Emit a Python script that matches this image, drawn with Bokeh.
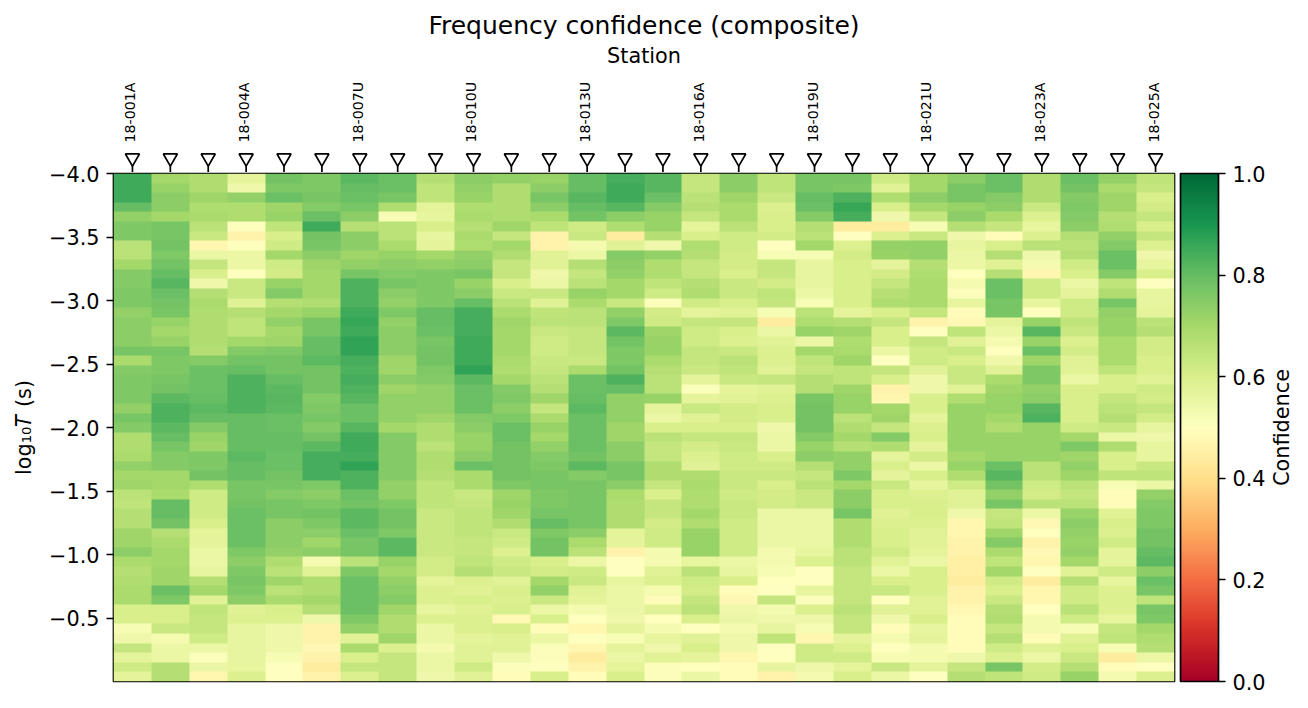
import math
import numpy as np
from bokeh.core.properties import value
from bokeh.embed import file_html
from bokeh.layouts import column, row
from bokeh.models import ColorBar, FixedTicker, Label, LinearColorMapper, Range1d, PrintfTickFormatter
from bokeh.plotting import figure
from bokeh.resources import INLINE

title_text = "Frequency confidence (composite)"
station_axis = "Station"
colorbar_label = "Confidence"
stations = ["18-001A","","","18-004A","","","18-007U","","","18-010U","","","18-013U","","","18-016A","","","18-019U","","","18-021U","","","18-023A","","","18-025A"]
y_ticks = [-4.0,-3.5,-3.0,-2.5,-2.0,-1.5,-1.0,-0.5]
y_tick_labels = ["\u22124.0","\u22123.5","\u22123.0","\u22122.5","\u22122.0","\u22121.5","\u22121.0","\u22120.5"]
cb_ticks = [0.0,0.2,0.4,0.6,0.8,1.0]
log_min, log_max = -4.0, 0.0

c00=[.85,.85,.85,.80,.73,.76,.76,.66,.66,.70,.75,.75,.76,.76,.73,.74,.74,.74,.77,.69,.75,.76,.76,.76,.73,.77,.75,.68,.68,.69,.73,.70,.71,.66,.65,.67,.67,.71,.71,.74,.69,.67,.68,.69,.69,.60,.60,.52,.54,.64,.57,.62,.57]
c01=[.70,.72,.74,.74,.70,.77,.77,.78,.76,.78,.80,.82,.79,.78,.77,.72,.70,.72,.77,.76,.76,.77,.78,.81,.83,.83,.81,.80,.77,.75,.75,.70,.70,.69,.80,.80,.78,.67,.69,.70,.70,.71,.71,.79,.76,.60,.60,.63,.53,.55,.55,.67,.67]
c02=[.68,.68,.71,.68,.69,.66,.63,.47,.55,.64,.60,.54,.67,.69,.68,.68,.68,.68,.67,.75,.79,.79,.79,.80,.81,.80,.75,.72,.71,.76,.76,.78,.68,.62,.62,.62,.60,.57,.57,.55,.55,.56,.67,.70,.58,.65,.64,.64,.62,.55,.51,.55,.47]
c03=[.57,.54,.73,.68,.68,.50,.46,.50,.55,.55,.50,.63,.63,.58,.67,.65,.65,.70,.75,.78,.80,.83,.83,.83,.83,.80,.80,.80,.80,.81,.80,.80,.77,.77,.78,.79,.79,.79,.79,.76,.74,.76,.77,.76,.74,.58,.59,.56,.56,.56,.56,.56,.59]
c04=[.78,.76,.79,.71,.72,.65,.60,.62,.70,.62,.61,.72,.75,.67,.70,.73,.70,.71,.76,.78,.78,.80,.81,.82,.81,.79,.79,.80,.80,.79,.79,.78,.77,.75,.77,.77,.74,.74,.74,.73,.68,.66,.71,.66,.69,.60,.59,.54,.54,.54,.52,.50,.50]
c05=[.76,.76,.77,.75,.79,.85,.78,.77,.74,.71,.70,.70,.70,.68,.72,.77,.77,.80,.80,.81,.78,.78,.78,.75,.76,.77,.75,.78,.81,.84,.84,.84,.76,.74,.76,.78,.76,.74,.71,.74,.53,.58,.68,.68,.70,.67,.54,.46,.46,.48,.46,.44,.46]
c06=[.81,.80,.79,.77,.74,.67,.74,.74,.71,.73,.77,.83,.83,.83,.85,.86,.85,.87,.87,.84,.83,.84,.83,.82,.79,.79,.82,.85,.85,.84,.87,.83,.83,.79,.78,.81,.81,.79,.77,.77,.66,.76,.79,.79,.79,.79,.76,.73,.58,.69,.60,.64,.59]
c07=[.79,.79,.77,.68,.52,.66,.66,.69,.72,.74,.75,.77,.74,.73,.76,.73,.74,.74,.74,.71,.71,.74,.71,.73,.73,.73,.70,.75,.75,.75,.75,.75,.73,.73,.76,.78,.78,.76,.81,.81,.72,.70,.73,.74,.75,.71,.68,.68,.71,.59,.64,.64,.64]
c08=[.67,.65,.65,.57,.56,.60,.56,.57,.70,.73,.76,.76,.76,.76,.80,.80,.79,.77,.78,.78,.76,.75,.73,.73,.73,.71,.68,.68,.66,.68,.68,.67,.65,.65,.65,.63,.63,.63,.63,.63,.61,.61,.57,.59,.59,.56,.59,.55,.55,.53,.55,.55,.54]
c09=[.74,.73,.72,.68,.69,.67,.69,.68,.73,.74,.77,.72,.74,.80,.84,.84,.84,.85,.85,.85,.87,.81,.79,.79,.79,.75,.74,.72,.72,.74,.79,.69,.69,.63,.64,.65,.65,.65,.64,.64,.65,.67,.59,.58,.60,.58,.59,.59,.57,.58,.58,.62,.58]
c10=[.73,.68,.68,.68,.68,.71,.64,.70,.68,.64,.64,.60,.63,.66,.69,.71,.70,.70,.70,.69,.68,.70,.75,.76,.74,.76,.79,.79,.78,.78,.78,.78,.76,.71,.72,.71,.68,.63,.62,.59,.62,.63,.58,.60,.59,.60,.48,.60,.58,.58,.54,.51,.49]
c11=[.72,.74,.77,.74,.69,.65,.46,.46,.58,.58,.54,.55,.63,.58,.65,.66,.63,.62,.62,.63,.64,.66,.67,.71,.64,.69,.72,.70,.73,.75,.76,.77,.77,.76,.76,.77,.80,.76,.78,.78,.60,.61,.70,.73,.63,.55,.60,.49,.55,.51,.51,.50,.60]
c12=[.80,.80,.82,.80,.78,.62,.63,.53,.55,.67,.64,.66,.72,.69,.66,.66,.64,.64,.64,.63,.69,.79,.79,.80,.81,.79,.79,.79,.79,.78,.81,.75,.77,.77,.77,.77,.77,.74,.69,.66,.55,.62,.63,.58,.57,.53,.50,.47,.50,.47,.44,.46,.49]
c13=[.84,.85,.85,.82,.74,.68,.44,.58,.75,.74,.73,.70,.70,.63,.73,.76,.81,.78,.76,.76,.78,.83,.80,.73,.73,.73,.71,.71,.74,.74,.77,.77,.74,.69,.68,.68,.68,.57,.57,.46,.50,.50,.56,.55,.55,.55,.54,.57,.52,.57,.55,.57,.60]
c14=[.82,.82,.79,.75,.72,.72,.67,.54,.73,.68,.68,.65,.62,.51,.61,.62,.71,.72,.72,.69,.67,.66,.66,.72,.57,.55,.60,.66,.64,.64,.68,.68,.64,.60,.64,.64,.61,.62,.62,.53,.53,.58,.59,.53,.49,.58,.50,.53,.56,.54,.58,.51,.51]
c15=[.64,.64,.66,.67,.64,.57,.60,.68,.67,.64,.64,.67,.68,.62,.57,.64,.62,.62,.64,.64,.63,.57,.51,.57,.63,.58,.60,.64,.61,.59,.58,.68,.69,.68,.68,.70,.68,.72,.72,.72,.56,.66,.62,.61,.64,.66,.60,.50,.58,.60,.57,.50,.55]
c16=[.74,.74,.71,.69,.69,.66,.62,.62,.61,.61,.60,.63,.63,.60,.58,.64,.60,.59,.63,.66,.65,.63,.57,.58,.61,.61,.60,.64,.63,.62,.62,.63,.63,.62,.63,.63,.62,.62,.62,.62,.55,.56,.60,.49,.48,.54,.55,.53,.54,.54,.47,.49,.49]
c17=[.65,.65,.63,.59,.60,.60,.61,.50,.52,.64,.64,.61,.65,.64,.52,.44,.55,.58,.59,.59,.58,.64,.58,.59,.60,.60,.54,.55,.55,.60,.62,.63,.60,.61,.61,.55,.55,.55,.55,.53,.53,.52,.50,.50,.64,.53,.54,.56,.65,.50,.50,.56,.46]
c18=[.77,.77,.80,.79,.75,.67,.66,.70,.52,.56,.56,.56,.55,.52,.66,.68,.72,.55,.70,.65,.64,.67,.67,.77,.78,.78,.78,.75,.72,.74,.67,.64,.66,.63,.63,.55,.55,.55,.55,.56,.59,.50,.50,.56,.51,.59,.54,.52,.47,.62,.62,.54,.53]
c19=[.77,.76,.83,.86,.84,.44,.50,.59,.61,.60,.60,.60,.60,.60,.57,.67,.71,.68,.69,.71,.65,.65,.71,.72,.72,.66,.68,.70,.67,.73,.73,.76,.70,.74,.74,.77,.68,.68,.68,.66,.66,.64,.64,.64,.64,.66,.64,.64,.57,.59,.62,.57,.60]
c20=[.62,.58,.68,.60,.54,.44,.59,.73,.72,.57,.61,.64,.67,.68,.60,.64,.60,.60,.55,.50,.64,.60,.46,.47,.70,.71,.64,.75,.68,.57,.60,.57,.63,.60,.60,.58,.59,.60,.60,.62,.58,.55,.60,.63,.50,.58,.54,.49,.53,.50,.52,.63,.55]
c21=[.70,.70,.74,.70,.64,.52,.63,.73,.73,.67,.68,.69,.69,.69,.64,.46,.50,.64,.62,.62,.58,.54,.54,.60,.60,.57,.59,.60,.57,.61,.55,.60,.56,.59,.60,.60,.59,.58,.58,.57,.55,.60,.60,.60,.58,.58,.60,.56,.57,.53,.53,.57,.50]
c22=[.74,.77,.77,.72,.74,.67,.54,.56,.55,.55,.50,.53,.51,.56,.49,.48,.65,.58,.63,.60,.63,.63,.58,.68,.72,.72,.72,.72,.72,.70,.72,.68,.62,.58,.58,.54,.47,.47,.46,.46,.45,.45,.44,.46,.46,.48,.49,.49,.49,.49,.54,.64,.67]
c23=[.79,.79,.75,.74,.69,.64,.49,.60,.67,.58,.67,.79,.79,.77,.77,.57,.55,.53,.50,.54,.58,.69,.71,.72,.72,.70,.68,.72,.72,.72,.79,.82,.78,.73,.77,.64,.65,.71,.75,.69,.65,.70,.62,.60,.63,.67,.68,.64,.67,.62,.59,.77,.65]
c24=[.68,.68,.68,.63,.59,.56,.59,.66,.54,.53,.47,.62,.62,.56,.50,.72,.82,.72,.79,.71,.76,.76,.73,.74,.82,.83,.72,.72,.72,.72,.66,.66,.62,.61,.66,.55,.48,.50,.46,.48,.47,.50,.44,.47,.47,.50,.53,.53,.49,.58,.55,.61,.62]
c25=[.79,.78,.75,.76,.75,.74,.67,.66,.67,.62,.60,.55,.57,.62,.62,.65,.63,.59,.61,.58,.58,.55,.60,.60,.60,.60,.62,.70,.76,.71,.73,.71,.66,.64,.66,.72,.74,.73,.72,.73,.70,.58,.67,.62,.62,.66,.62,.52,.58,.60,.63,.67,.72]
c26=[.73,.69,.71,.71,.67,.68,.73,.75,.79,.79,.75,.65,.68,.77,.73,.72,.72,.69,.69,.69,.65,.60,.60,.64,.66,.67,.63,.55,.68,.60,.60,.65,.52,.49,.49,.58,.60,.59,.62,.57,.57,.62,.56,.59,.59,.59,.56,.64,.65,.52,.44,.49,.53]
c27=[.65,.64,.60,.61,.64,.60,.64,.59,.54,.56,.60,.50,.56,.56,.57,.66,.67,.61,.61,.60,.60,.58,.62,.61,.64,.61,.56,.54,.56,.56,.63,.65,.55,.73,.75,.76,.76,.78,.78,.80,.81,.74,.79,.77,.65,.77,.76,.70,.68,.67,.55,.50,.59]

columns = [c00,c01,c02,c03,c04,c05,c06,c07,c08,c09,c10,c11,c12,c13,c14,c15,c16,c17,c18,c19,c20,c21,c22,c23,c24,c25,c26,c27]
grid = np.array(columns, dtype=float).T
n_rows, n_cols = grid.shape

anchors = ["#a50026","#d73027","#f46d43","#fdae61","#fee08b","#ffffbf","#d9ef8b","#a6d96a","#66bd63","#1a9850","#006837"]
rgb = np.array([[int(h[i:i+2],16) for i in (1,3,5)] for h in anchors], dtype=float)
pos = np.linspace(0, 1, 11)
t = np.linspace(0, 1, 256)
palette = ["#%02x%02x%02x" % tuple(int(round(np.interp(v, pos, rgb[:,k]))) for k in range(3)) for v in t]
mapper = LinearColorMapper(palette=palette, low=0, high=1)

x_range = Range1d(-0.5, n_cols - 0.5)
y_range = Range1d(log_max, log_min)
FONT = "DejaVu Sans"

# top strip
top = figure(width=1300, height=172, x_range=x_range, y_range=Range1d(0, 172), output_backend="svg",
             toolbar_location=None, min_border_left=113, min_border_right=126, min_border_top=0, min_border_bottom=0)
top.xaxis.visible = False
top.yaxis.visible = False
top.xgrid.visible = False
top.ygrid.visible = False
top.outline_line_color = None
xs = list(range(n_cols))
top.segment(x0=xs, x1=xs, y0=[0]*n_cols, y1=[9]*n_cols, line_color="black", line_width=1.7)
top.scatter(x=xs, y=[14.5]*n_cols, marker="inverted_triangle", size=14, fill_color="white", line_color="black", line_width=1.7)
lab = [i for i, s in enumerate(stations) if s]
top.text(x=lab, y=[30]*len(lab), text=[stations[i] for i in lab], angle=math.pi/2, text_align="left", text_baseline="middle",
         x_offset=-2, text_font=value(FONT), text_font_size="14.2px", text_color="black")
top.add_layout(Label(x=(n_cols-1)/2, y=117, text=station_axis, text_align="center", text_baseline="middle",
                     text_font=FONT, text_font_size="20.8px", text_color="black"))
top.add_layout(Label(x=(n_cols-1)/2, y=147, text=title_text, text_align="center", text_baseline="middle",
                     text_font=FONT, text_font_size="25px", text_color="black"))

# heat map
p = figure(width=1268, height=537, x_range=x_range, y_range=y_range, output_backend="svg",
           toolbar_location=None, min_border_left=113, min_border_right=94, min_border_top=14, min_border_bottom=15,
           margin=(-13, 0, 0, 0), border_fill_color=None)
p.image(image=[grid], x=-0.5, y=log_min, dw=n_cols, dh=log_max-log_min, color_mapper=mapper)
p.xaxis.visible = False
p.xgrid.visible = False
p.ygrid.visible = False
p.outline_line_color = "black"
p.outline_line_width = 1.7
p.outline_line_alpha = 1
ax = p.yaxis[0]
ax.ticker = FixedTicker(ticks=y_ticks)
ax.major_label_overrides = dict(zip(y_ticks, y_tick_labels))
ax.major_tick_in = 0
ax.major_tick_out = 7
ax.major_tick_line_width = 1.7
ax.major_tick_line_color = "black"
ax.minor_tick_line_color = None
ax.axis_line_color = None
ax.major_label_text_font = FONT
ax.major_label_text_font_size = "20.8px"
ax.major_label_text_color = "black"
ax.major_label_standoff = 7
ax.axis_label = "log\u2081\u2080\U0001D447 (s)"
ax.axis_label_text_font = FONT
ax.axis_label_text_font_style = "normal"
ax.axis_label_text_font_size = "20.8px"
ax.axis_label_text_color = "black"
ax.axis_label_standoff = 10

cb = ColorBar(color_mapper=mapper, ticker=FixedTicker(ticks=cb_ticks), formatter=PrintfTickFormatter(format="%.1f"),
              width=38, padding=0, margin=0, location=(6, 0), bar_line_color="black", bar_line_width=1.7,
              major_tick_in=0, major_tick_out=7, major_tick_line_color="black", major_tick_line_width=1.7,
              minor_tick_line_color=None, major_label_text_font=FONT, major_label_text_font_size="20.8px",
              major_label_text_color="black", label_standoff=7, background_fill_alpha=0, border_line_color=None)
p.add_layout(cb, "right")

# colour bar caption strip
side = figure(width=32, height=537, x_range=Range1d(0, 32), y_range=y_range, output_backend="svg",
              toolbar_location=None, min_border_left=0, min_border_right=0, min_border_top=14, min_border_bottom=15,
              margin=(-13, 0, 0, 0), border_fill_color=None)
side.xaxis.visible = False
side.yaxis.visible = False
side.xgrid.visible = False
side.ygrid.visible = False
side.outline_line_color = None
side.text(x=[13], y=[(log_min+log_max)/2], text=[colorbar_label], angle=math.pi/2, text_align="center", text_baseline="middle",
          text_font=value(FONT), text_font_size="20.8px", text_color="black")

layout = column(top, row(p, side, spacing=0), spacing=0)
open("out.html", "w").write(file_html(layout, INLINE))
